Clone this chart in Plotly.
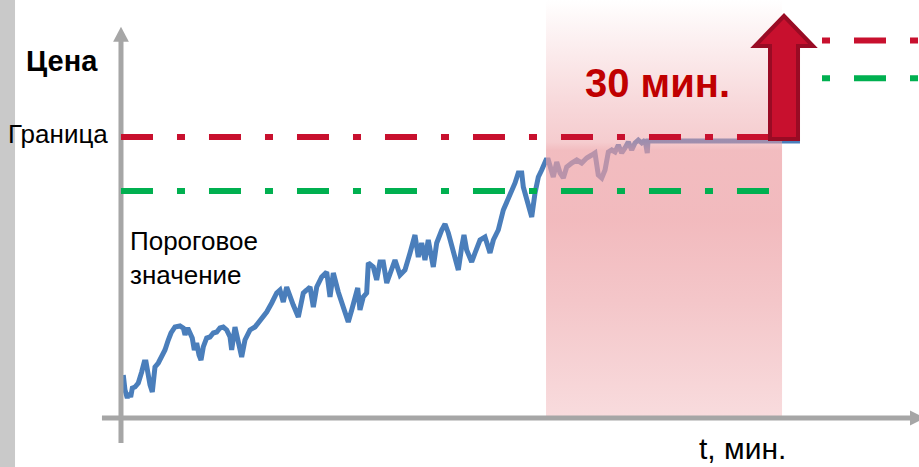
import plotly.graph_objects as go

# ---- data -----------------------------------------------------------------
# time in minutes, price in arbitrary units (axis baseline = 0, border = 100)
t_min = [0.29, 0.51, 0.80, 1.02, 1.23, 1.44, 1.78, 2.20, 2.63, 2.96, 3.18, 3.47, 3.69, 3.98,
         4.19, 4.32, 4.74, 5.17, 5.59, 6.01, 6.36, 6.86, 7.50, 7.92, 8.14, 8.48, 8.77, 9.06,
         9.32, 9.62, 9.92, 10.17, 10.46, 10.89, 11.31, 11.73, 12.17, 12.58, 13.00, 13.44,
         13.86, 14.07, 14.49, 14.91, 15.34, 15.76, 16.40, 17.03, 17.45, 17.89, 18.52, 19.16,
         19.79, 20.21, 20.63, 21.06, 21.48, 21.90, 22.54, 23.17, 23.61, 24.03, 24.45, 24.88,
         25.51, 26.15, 26.57, 26.99, 27.62, 28.06, 28.47, 28.89, 29.33, 29.75, 30.09, 30.38,
         30.80, 31.23, 31.44, 32.07, 32.50, 32.92, 33.34, 33.78, 34.20, 34.83, 35.47, 36.10,
         36.74, 37.37, 37.79, 38.22, 38.64, 39.06, 39.70, 40.13, 40.77, 41.19, 41.61, 42.04,
         42.67, 42.88, 43.31, 43.60, 43.94, 44.58, 45.00, 45.64, 46.27, 46.69, 46.91, 47.33,
         47.96, 48.60, 49.03, 49.67, 50.09, 50.50, 50.94, 51.14, 51.65, 52.21, 52.63, 53.05,
         53.48, 54.03, 54.32, 54.75, 54.95, 55.39, 55.81, 56.23, 56.66, 57.29, 57.93, 58.56,
         59.20, 59.84, 60.25, 60.67, 61.11, 61.53, 61.95, 62.38, 62.80, 63.22, 63.65, 64.07,
         64.49, 64.92, 65.34, 65.76, 66.19, 66.61, 66.90, 66.99, 86.31]
price = [15.30, 9.96, 7.12, 8.90, 7.47, 10.68, 11.03, 12.46, 16.37, 19.93, 19.93, 13.52, 11.74,
         9.25, 16.37, 18.15, 19.57, 21.71, 24.20, 27.76, 30.25, 32.38, 32.74, 32.03, 29.54,
         32.03, 30.25, 28.47, 24.20, 26.69, 22.42, 20.64, 25.27, 28.47, 28.83, 30.25, 30.60,
         32.03, 32.38, 31.32, 28.83, 24.20, 32.38, 27.76, 21.71, 27.76, 31.32, 32.38, 33.81,
         35.94, 37.72, 40.93, 44.48, 45.55, 41.28, 46.62, 43.06, 40.21, 35.94, 44.48, 45.55,
         46.62, 39.50, 46.62, 50.18, 51.96, 43.06, 51.60, 44.84, 40.93, 38.43, 34.16, 38.43,
         43.06, 46.26, 38.43, 43.06, 44.48, 55.16, 53.74, 49.11, 55.52, 55.52, 48.04, 51.60,
         56.23, 50.89, 52.67, 58.72, 65.12, 57.29, 62.28, 56.23, 63.34, 53.74, 62.28, 66.90,
         69.04, 65.84, 60.85, 55.16, 52.67, 60.85, 65.12, 59.79, 55.52, 58.72, 63.34, 64.41,
         60.85, 58.72, 63.34, 66.90, 74.02, 76.87, 80.07, 83.63, 87.19, 87.19, 82.21, 77.58,
         71.53, 80.07, 85.76, 88.26, 91.81, 91.81, 88.26, 85.76, 91.10, 87.19, 85.41, 89.32,
         90.75, 91.81, 90.75, 92.53, 93.59, 94.31, 86.48, 85.41, 88.26, 94.66, 95.37, 94.66,
         97.15, 94.31, 96.08, 98.22, 95.37, 97.86, 98.93, 97.86, 98.93, 94.31, 98.58, 98.58]

BORDER = 100.0          # "Граница"
THRESHOLD = 80.8        # "Пороговое значение"
BORDER_NEW = 134.3      # raised border (right side)
THRESHOLD_NEW = 120.9   # raised threshold (right side)
WINDOW_START = 54.03    # start of the 30-minute window
WINDOW_LEN = 30.0
LEVEL_END = 82.37       # where the current levels end
NEW_LEVEL_START = 89.11 # where the raised levels start

labels = {
    "price": "Цена",
    "border": "Граница",
    "threshold": "Пороговое<br>значение",
    "window": "30 мин.",
    "time": "t, мин.",
}

# ---- view ------------------------------------------------------------------
X_RANGE = [-15.38, 101.44]
Y_RANGE = [-17.44, 148.75]

BLUE = "#4a7ebb"
RED = "#c8102e"
RED_DARK = "#990b24"
GREEN = "#00b050"
GRAY = "#a6a6a6"
FONT = "Liberation Sans, Arial, sans-serif"

fig = go.Figure()

# price line
fig.add_trace(go.Scatter(x=t_min, y=price, mode="lines",
                         line=dict(color=BLUE, width=5), hoverinfo="skip"))

# 30-minute window with vertical gradient (drawn over the line)
w0, w1 = WINDOW_START, WINDOW_START + WINDOW_LEN
top = Y_RANGE[1]
fig.add_trace(go.Scatter(
    x=[w0, w1, w1, w0, w0], y=[0, 0, top, top, 0],
    mode="lines", line=dict(width=0), fill="toself",
    fillgradient=dict(type="vertical", start=0, stop=top, colorscale=[
        [0.0, "rgba(236,157,162,0.36)"],
        [0.28, "rgba(236,157,162,0.58)"],
        [0.47, "rgba(236,157,162,0.70)"],
        [0.64, "rgba(236,157,162,0.68)"],
        [0.66, "rgba(236,157,162,0.52)"],
        [0.75, "rgba(236,157,162,0.40)"],
        [0.85, "rgba(236,157,162,0.24)"],
        [0.94, "rgba(236,157,162,0.10)"],
        [1.0, "rgba(236,157,162,0.0)"],
    ]),
    hoverinfo="skip"))

shapes = []
# left grey strip
shapes.append(dict(type="rect", xref="x", yref="y", x0=X_RANGE[0] - 1, x1=-13.47,
                   y0=Y_RANGE[0] - 1, y1=Y_RANGE[1] + 1, fillcolor="#c9c9c9",
                   line=dict(width=0), layer="below"))
# y axis with arrow
shapes.append(dict(type="line", xref="x", yref="y", x0=0, x1=0, y0=-8.9, y1=134.5,
                   line=dict(color=GRAY, width=5), layer="above"))
shapes.append(dict(type="path", xref="x", yref="y",
                   path="M -1.0,133.9 L 0,139.25 L 1.0,133.9 Z",
                   fillcolor=GRAY, line=dict(width=0), layer="above"))
# x axis with arrow
shapes.append(dict(type="line", xref="x", yref="y", x0=-2.42, x1=100.4, y0=0, y1=0,
                   line=dict(color=GRAY, width=5), layer="above"))
shapes.append(dict(type="path", xref="x", yref="y",
                   path="M 100.3,2.7 L 102.2,0 L 100.3,-2.7 Z",
                   fillcolor=GRAY, line=dict(width=0), layer="above"))
# level lines
DASH_A = "32px,24px,8px,24px"
DASH_B = "8px,24px,32px,24px"
for lvl, col in [(BORDER, RED), (THRESHOLD, GREEN)]:
    shapes.append(dict(type="line", xref="x", yref="y", x0=0, x1=LEVEL_END, y0=lvl, y1=lvl,
                       line=dict(color=col, width=6, dash=DASH_A), layer="above"))
for lvl, col in [(BORDER_NEW, RED), (THRESHOLD_NEW, GREEN)]:
    shapes.append(dict(type="line", xref="x", yref="y", x0=NEW_LEVEL_START, x1=X_RANGE[1] + 2,
                       y0=lvl, y1=lvl,
                       line=dict(color=col, width=6, dash=DASH_B), layer="above"))
# big up arrow
shapes.append(dict(type="path", xref="x", yref="y",
                   path=("M 82.5,99.29 L 82.5,132.38 L 80.59,132.38 L 84.28,143.06 "
                         "L 87.97,132.38 L 86.06,132.38 L 86.06,99.29 Z"),
                   fillcolor=RED, line=dict(color=RED_DARK, width=4), layer="above"))

annotations = [
    dict(x=-7.5, y=127.2, text=labels["price"], showarrow=False, xanchor="center",
         yanchor="middle", font=dict(family=FONT, size=29, color="#000000", weight="bold")),
    dict(x=-1.4, y=101.07, text=labels["border"], showarrow=False, xanchor="right",
         yanchor="middle", font=dict(family=FONT, size=26, color="#000000")),
    dict(x=0.89, y=56.94, text=labels["threshold"], showarrow=False, xanchor="left",
         yanchor="middle", align="left", font=dict(family=FONT, size=26, color="#000000")),
    dict(x=68.2, y=119.1, text=labels["window"], showarrow=False, xanchor="center",
         yanchor="middle", font=dict(family=FONT, size=40, color="#c00000", weight="bold")),
    dict(x=79.0, y=-10.68, text=labels["time"], showarrow=False, xanchor="center",
         yanchor="middle", font=dict(family=FONT, size=30, color="#000000")),
]

fig.update_layout(
    width=919, height=467, autosize=False,
    margin=dict(l=0, r=0, t=0, b=0, pad=0),
    paper_bgcolor="white", plot_bgcolor="white",
    showlegend=False,
    xaxis=dict(range=X_RANGE, visible=False, fixedrange=True),
    yaxis=dict(range=Y_RANGE, visible=False, fixedrange=True),
    shapes=shapes, annotations=annotations,
)

fig.write_html(
    "out.html",
    config={"displayModeBar": False},
    post_script="document.body.style.margin='0px';document.body.style.overflow='hidden';",
)
